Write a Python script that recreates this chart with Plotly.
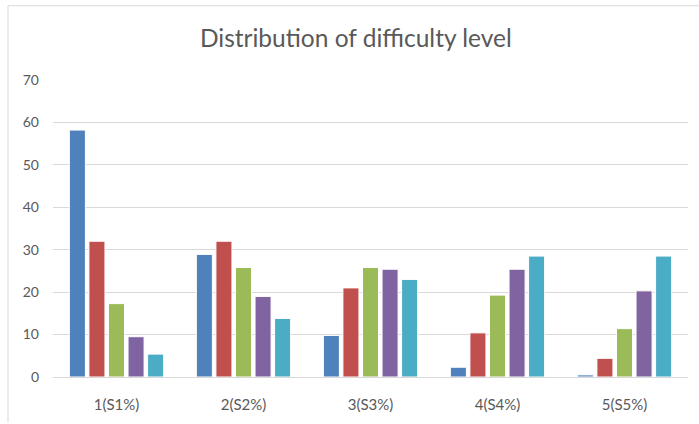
import plotly.graph_objects as go

# Categories and series values (percent of items per difficulty level)
categories = ["1(S1%)", "2(S2%)", "3(S3%)", "4(S4%)", "5(S5%)"]
series_names = ["S1", "S2", "S3", "S4", "S5"]
s1 = [58.2, 28.9, 9.8, 2.3, 0.5]
s2 = [32.0, 32.0, 21.0, 10.4, 4.4]
s3 = [17.3, 25.8, 25.8, 19.3, 11.4]
s4 = [9.5, 19.0, 25.4, 25.4, 20.3]
s5 = [5.4, 13.8, 23.0, 28.5, 28.5]
y_ticks = [0, 10, 20, 30, 40, 50, 60, 70]

colors = ["#4F81BD", "#C0504D", "#9BBB59", "#8064A2", "#4BACC6"]
values = [s1, s2, s3, s4, s5]

fig = go.Figure()
for name, vals, col in zip(series_names, values, colors):
    fig.add_trace(go.Bar(
        x=categories, y=vals, name=name,
        marker=dict(color=col, line=dict(color="white", width=1)),
    ))

W, H = 699, 424
ml, mr, mt, mb = 53, 11, 80, 44
pw, ph = W - ml - mr, H - mt - mb

def px_x(x):
    return (x - ml) / pw

def px_y(y):
    return (H - mb - y) / ph

fig.update_layout(
    width=W, height=H,
    margin=dict(l=ml, r=mr, t=mt, b=mb),
    paper_bgcolor="white", plot_bgcolor="white",
    showlegend=False,
    barmode="group", bargap=0.23, bargroupgap=0.18,
    title=dict(
        text="Distribution of difficulty level",
        x=0.509, xanchor="center", y=1 - 38 / H, yanchor="middle",
        font=dict(family="Lato, Open Sans, sans-serif", size=24.5, color="#595959"),
    ),
    font=dict(family="Lato, Open Sans, sans-serif", size=14, color="#595959"),
    xaxis=dict(
        showgrid=False, showline=True, linecolor="#D9D9D9", linewidth=1,
        ticks="", ticklabelstandoff=14,
        tickfont=dict(size=15, color="#595959"),
    ),
    yaxis=dict(
        range=[0, 70], tickvals=y_ticks, showgrid=True, gridcolor="#D9D9D9",
        gridwidth=1, zeroline=False, showline=False, ticks="",
        ticklabelstandoff=13,
        tickfont=dict(size=14, color="#595959"),
    ),
    shapes=[
        dict(type="line", xref="paper", yref="paper",
             x0=px_x(8), x1=px_x(8), y0=px_y(5), y1=px_y(H + 2),
             line=dict(color="#D9D9D9", width=1)),
        dict(type="line", xref="paper", yref="paper",
             x0=px_x(8), x1=px_x(W + 2), y0=px_y(5), y1=px_y(5),
             line=dict(color="#D9D9D9", width=1)),
    ],
)

fig.write_html("out.html")
